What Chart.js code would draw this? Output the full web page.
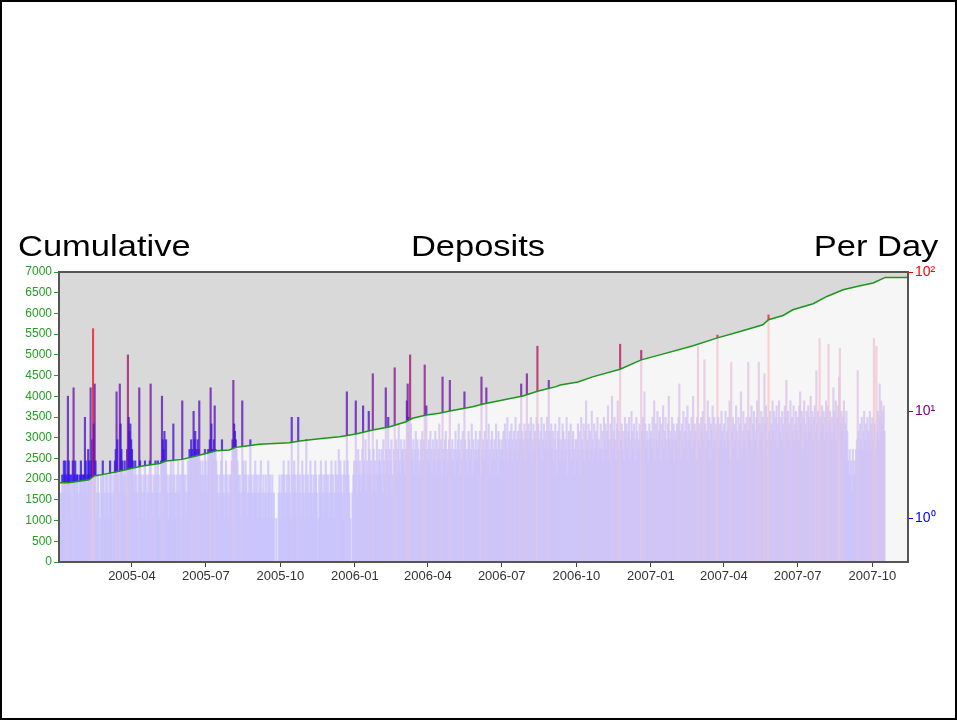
<!DOCTYPE html>
<html>
<head>
<meta charset="utf-8">
<script src="https://cdn.jsdelivr.net/npm/chart.js@4.4.1/dist/chart.umd.min.js"></script>
<style>
  body { margin: 0; background: #fff; }
  #wrap { position: relative; width: 957px; height: 720px; }
  #frame { position: absolute; left: 0; top: 0; width: 957px; height: 720px; box-sizing: border-box; border: 2px solid #000; pointer-events: none; }
  .ttl { position: absolute; top: 231px; font-family: "Liberation Sans", Arial, sans-serif; font-size: 30px; line-height: 30px; color: #000; white-space: nowrap; }
</style>
</head>
<body>
<div id="wrap">
  <canvas id="grafico" width="957" height="720"></canvas>
  <div class="ttl" style="left:18px; transform:scaleX(1.15); transform-origin:left center;">Cumulative</div>
  <div class="ttl" style="left:478px; transform:translateX(-50%) scaleX(1.15); transform-origin:center center;">Deposits</div>
  <div class="ttl" style="right:19px; transform:scaleX(1.15); transform-origin:right center;">Per Day</div>
  <div id="frame"></div>
</div>
<script>
// day 0 = 2005-01-01
var startDate = Date.UTC(2005, 0, 1);
var endDay = 1047;

// deposits per day, one line per month
var perDay2005 = [
  0,2,1,2,3,2,4,3,4,2, 3,13,4,3,2,3,1,4,15,3, 4,2,3,3,2,1,3,4,3,2, 3,
  3,9,4,2,3,5,4,3,15,4, 6,40,8,16,4,1,2,3,2,0, 1,3,2,4,3,2,1,3,
  2,3,1,2,4,3,2,1,3,2, 4,5,14,6,3,2,16,8,5,4, 3,2,4,3,2,5,26,9,7,8, 6,
  5,4,3,2,4,3,2,1,3,15, 4,3,2,1,3,2,4,3,1,2, 3,2,4,16,3,2,1,3,2,4,
  3,2,4,3,1,2,4,13,6,5, 7,4,6,3,2,1,3,2,4,3, 2,8,3,2,1,3,2,4,2,3, 1,
  3,12,4,3,2,3,1,2,4,3, 5,4,6,5,4,10,6,7,5,4, 6,5,12,4,3,2,4,3,2,5,
  4,3,2,5,4,6,15,8,5,4, 6,11,5,4,3,2,1,3,2,4, 6,3,2,1,3,4,2,3,1,2, 3,
  3,4,6,17,8,7,6,5,4,3, 2,3,1,2,12,4,3,2,4,3, 1,2,3,2,6,3,2,1,3,2, 4,
  2,3,1,2,3,2,4,1,2,3, 1,2,3,2,1,4,2,3,1,2, 3,1,2,0,0,1,0,0,2,3,
  2,1,3,2,4,3,1,2,3,2, 4,3,2,1,9,3,2,4,3,2, 1,3,9,2,3,1,2,4,3,2, 1,
  3,6,2,3,1,2,4,3,2,1, 3,2,4,3,2,0,1,3,2,4, 3,2,1,3,2,4,3,2,3,1,
  2,3,4,2,3,1,2,4,3,2, 3,5,2,4,3,2,1,3,4,2, 3,14,4,3,2,1,0,0,2,3, 4
];
var perDay2006 = [
  3,12,4,2,5,3,4,2,3,5, 11,4,3,6,2,4,3,10,5,3, 4,2,19,5,3,4,2,6,3,4, 5,
  4,3,5,2,6,4,3,15,5,4, 9,3,5,4,6,2,3,5,21,4, 6,3,5,8,4,3,6,5,
  5,4,6,3,5,12,16,9,7,26, 8,5,4,6,3,5,7,4,6,5, 3,4,6,5,7,4,6,22,5,11, 4,
  5,6,4,7,5,3,6,4,5,7, 3,6,4,5,8,4,6,3,18,5, 4,6,7,3,5,4,6,17,5,4,
  6,4,5,3,7,5,4,6,8,5, 3,6,4,7,5,14,6,4,5,3, 7,6,4,5,8,3,6,5,4,7, 5,
  4,6,5,7,3,18,5,6,4,7, 5,15,6,4,8,5,3,6,7,4, 5,6,4,8,5,3,7,6,4,5,
  6,5,7,4,8,6,5,9,4,6, 7,5,8,6,4,7,5,9,6,4, 7,5,8,6,16,7,5,6,8,4, 7,
  19,6,8,5,7,9,4,6,8,5, 7,6,9,30,8,6,5,7,9,4, 6,8,5,7,6,9,5,17,7,6, 8,
  5,7,4,6,8,5,3,7,6,9, 4,6,5,8,7,4,6,5,9,3, 6,7,5,8,4,6,7,5,3,6,
  6,4,8,5,7,3,9,6,5,8, 4,7,12,5,6,8,4,7,5,10, 6,4,8,5,7,6,9,4,6,5, 8,
  5,7,4,9,6,8,5,7,11,6, 4,8,6,13,5,7,9,6,4,8, 12,5,7,31,6,8,5,7,4,9,
  6,8,5,7,9,4,6,10,7,5, 8,6,4,9,7,5,6,8,5,28, 7,9,6,14,8,5,7,6,4,8, 6
];
var perDay2007 = [
  7,5,9,6,12,4,8,6,10,5, 7,9,4,8,6,11,5,7,9,6, 4,8,13,6,7,5,9,6,8,4, 7,
  6,8,5,9,16,7,4,8,6,10, 5,7,9,6,11,4,8,6,7,9, 5,13,6,8,7,4,9,30,
  6,8,5,9,7,10,6,24,8,5, 7,12,6,9,4,8,7,11,5,9, 6,8,7,36,9,5,8,6,10,7, 5,
  8,6,10,5,7,9,6,12,4,23, 7,9,5,8,6,11,7,4,9,6, 8,14,5,7,10,6,8,5,9,7,
  23,7,9,6,11,5,8,10,6,7, 9,12,5,23,8,6,10,7,9,5, 19,8,11,6,9,50,7,10,6,8, 12,
  7,10,6,9,11,5,8,12,7,9, 6,10,8,5,11,9,17,7,10,6, 8,12,5,9,7,11,6,8,10,7,
  9,6,11,14,8,10,5,9,12,7, 8,10,6,11,9,7,13,8,10,6, 9,11,7,20,8,10,6,34,9,7, 11,
  8,10,6,9,12,7,11,31,8,10, 6,9,7,15,10,8,12,6,9,11, 18,29,8,10,7,9,12,6,8,10, 7,
  4,3,5,3,4,2,5,3,4,3, 5,6,20,7,5,8,6,9,5,7, 10,6,8,5,9,7,6,10,5,8,
  9,6,34,8,5,30,7,10,6,16, 9,12,8,10,11,7
];

// cumulative deposits: day, total
var cumDays = [0,12,37,43,50,70,89,103,124,132,152,169,185,194,210,218,231,247,272,284,297,321,346,366,387,408,428,436,453,469,482,510,523,552,572,591,613,618,640,659,692,718,741,782,811,840,868,875,893,905,930,947,967,988,1004,1019,1047];
var cumTotal = [1911,1911,1984,2073,2097,2170,2259,2315,2380,2436,2477,2557,2637,2685,2702,2767,2799,2840,2864,2879,2920,2975,3024,3089,3186,3266,3387,3469,3549,3590,3645,3749,3815,3928,4008,4129,4233,4274,4345,4475,4654,4879,5000,5218,5404,5565,5726,5847,5951,6089,6234,6410,6572,6669,6734,6870,6870];

var monthTicks = ['2005-04','2005-07','2005-10','2006-01','2006-04','2006-07','2006-10','2007-01','2007-04','2007-07','2007-10'];
var cumTicks = [0,500,1000,1500,2000,2500,3000,3500,4000,4500,5000,5500,6000,6500,7000];
var perDayTicks = [1,10,100];
var perDayLabels = ['10\u2070','10\u00b9','10\u00b2'];
var perDayColors = ['#0000ff','#800080','#ff0000'];

function dayOf(label) {
  var p = label.split('-');
  return Math.round((Date.UTC(+p[0], +p[1] - 1, 1) - startDate) / 86400000);
}
function lg(v) { return Math.log10(1 + v); }
var topLg = lg(100);

// blue for quiet days, red for the big ones
function barColor(v) {
  var t = Math.min(1, v / 45);
  return 'rgba(' + Math.round(230 * t + 30) + ',' + Math.round(20 + 10 * t) + ',' + Math.round(235 * (1 - t) + 20) + ',0.8)';
}

var bars = [], barCols = [];
[[perDay2005, 0], [perDay2006, 365], [perDay2007, 730]].forEach(function (yr) {
  yr[0].forEach(function (v, i) {
    if (v > 0) {
      bars.push({ x: yr[1] + i, y: lg(v) });
      barCols.push(barColor(v));
    }
  });
});
var cum = cumDays.map(function (d, i) { return { x: d, y: cumTotal[i] }; });

var fondo = {
  id: 'fondo',
  beforeDraw: function (chart) {
    var c = chart.ctx, a = chart.chartArea;
    c.save();
    c.fillStyle = '#fff';
    c.fillRect(0, 0, chart.width, chart.height);
    c.fillStyle = '#d9d9d9';
    c.fillRect(a.left, a.top, a.right - a.left, a.bottom - a.top);
    c.restore();
  },
  afterDatasetsDraw: function (chart) {
    var c = chart.ctx, a = chart.chartArea;
    c.save();
    c.strokeStyle = '#555';
    c.lineWidth = 2;
    c.strokeRect(a.left, a.top, a.right - a.left, a.bottom - a.top);
    c.restore();
  }
};

var green = '#22a022';
var tickFont = { family: '"Liberation Sans", Arial, sans-serif', size: 12 };

new Chart(document.getElementById('grafico'), {
  type: 'bar',
  data: {
    datasets: [{
      type: 'line',
      label: 'Cumulative',
      data: cum,
      yAxisID: 'y',
      borderColor: '#1c961c',
      borderWidth: 1.5,
      pointRadius: 0,
      fill: 'origin',
      backgroundColor: 'rgba(255,255,255,0.75)',
      order: 0
    }, {
      type: 'bar',
      label: 'Per Day',
      data: bars,
      yAxisID: 'y2',
      backgroundColor: barCols,
      barThickness: 1.5,
      order: 1
    }]
  },
  options: {
    responsive: false,
    animation: false,
    layout: { padding: { top: 272, bottom: 128, left: 0, right: 0 } },
    plugins: { legend: { display: false }, tooltip: { enabled: false } },
    scales: {
      x: {
        type: 'linear',
        min: 0,
        max: endDay,
        offset: false,
        afterBuildTicks: function (s) { s.ticks = monthTicks.map(function (m) { return { value: dayOf(m) }; }); },
        afterFit: function (s) { s.height = 30; },
        ticks: {
          autoSkip: false,
          maxRotation: 0,
          color: '#333',
          font: { family: '"Liberation Sans", Arial, sans-serif', size: 13 },
          padding: 2,
          callback: function (v, i) { return monthTicks[i]; }
        },
        grid: { offset: false, drawOnChartArea: false, tickLength: 5, tickColor: '#444' },
        border: { color: '#555', width: 2 }
      },
      y: {
        position: 'left',
        min: 0,
        max: 7000,
        afterBuildTicks: function (s) { s.ticks = cumTicks.map(function (v) { return { value: v }; }); },
        afterFit: function (s) { s.width = 59; },
        ticks: { color: green, font: tickFont, padding: 2, callback: function (v, i) { return String(cumTicks[i]); } },
        grid: { drawOnChartArea: false, tickLength: 5, tickColor: green },
        border: { color: '#555', width: 2 }
      },
      y2: {
        position: 'right',
        min: 0,
        max: topLg,
        afterBuildTicks: function (s) { s.ticks = perDayTicks.map(function (v) { return { value: lg(v) }; }); },
        afterFit: function (s) { s.width = 49; },
        ticks: {
          font: { family: '"Liberation Sans", Arial, sans-serif', size: 14 },
          padding: 2,
          color: function (ctx) { return perDayColors[ctx.index]; },
          callback: function (v, i) { return perDayLabels[i]; }
        },
        grid: {
          drawOnChartArea: false,
          tickLength: 5,
          tickColor: function (ctx) { return perDayColors[ctx.index]; }
        },
        border: { color: '#555', width: 2 }
      }
    }
  },
  plugins: [fondo]
});
</script>
</body>
</html>
